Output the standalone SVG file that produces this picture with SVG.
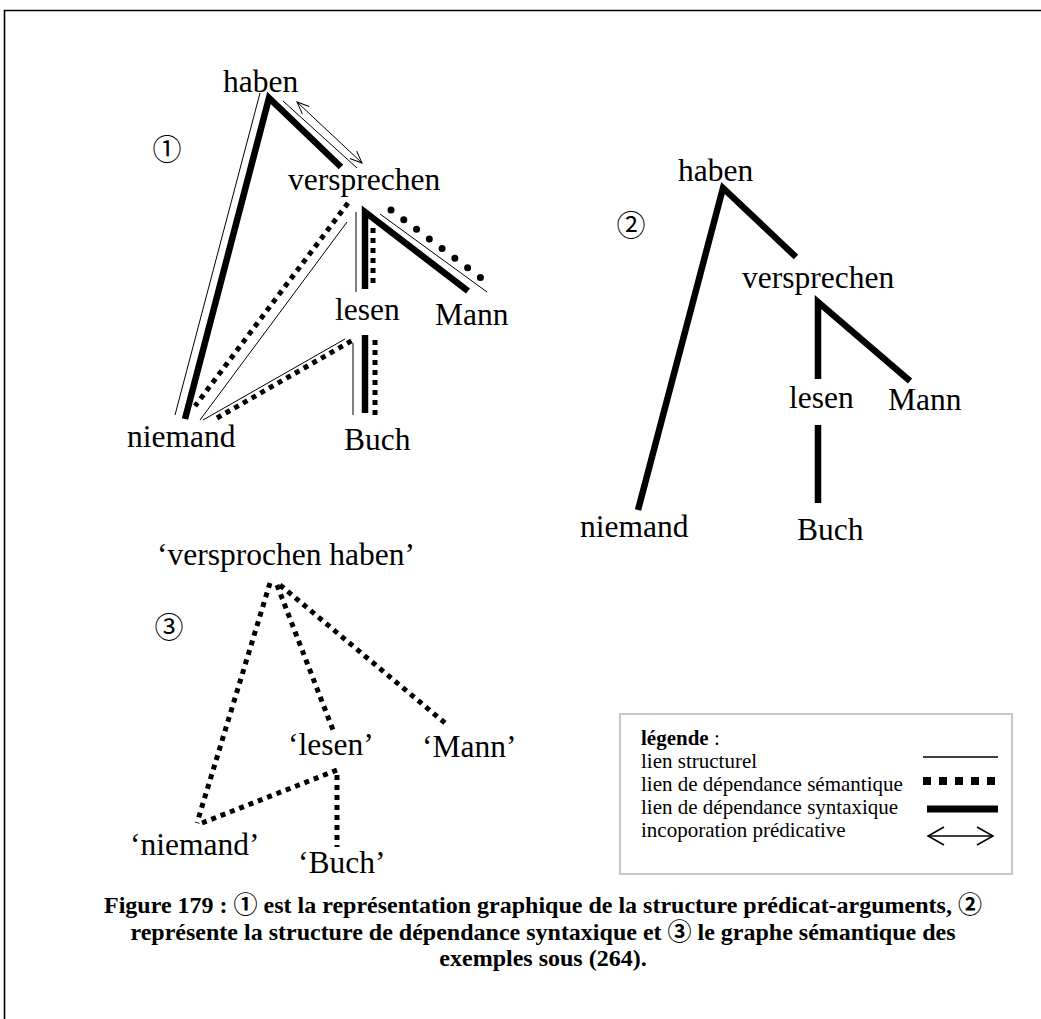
<svg xmlns="http://www.w3.org/2000/svg" width="1041" height="1019" viewBox="0 0 1041 1019">
  <style>
    .lbl { font-family: "Liberation Serif", "Times New Roman", serif; font-size: 31.5px; fill: #000; }
    .num { font-family: "Liberation Serif", "Noto Sans CJK JP", serif; font-size: 29px; fill: #000; text-anchor: middle; }
    .leg { font-family: "Liberation Serif", "Times New Roman", serif; font-size: 21px; fill: #000; }
    .cap { font-family: "Liberation Serif", "Noto Sans CJK JP", serif; font-size: 24px; font-weight: bold; fill: #000; text-anchor: middle; }
    .thin { stroke: #000; stroke-width: 1; fill: none; }
    .thick { stroke: #000; stroke-width: 6.5; fill: none; stroke-linejoin: miter; }
    .sem { stroke: #000; stroke-width: 5; stroke-dasharray: 5 5; fill: none; }
    .round { stroke: #000; stroke-width: 7; stroke-dasharray: 0 16; stroke-linecap: round; fill: none; }
    .incorp { stroke: #000; stroke-width: 1; fill: none; marker-start: url(#vhead); marker-end: url(#vhead); }
  </style>
  <defs>
    <marker id="vhead" markerUnits="userSpaceOnUse" markerWidth="30" markerHeight="30" viewBox="-15 -15 30 30" refX="0" refY="0" orient="auto-start-reverse">
      <path d="M -12 -5 L 0 0 L -12 5" fill="none" stroke="#000" stroke-width="1"/>
    </marker>
    <marker id="vheadLeg" markerUnits="userSpaceOnUse" markerWidth="40" markerHeight="40" viewBox="-20 -20 40 40" refX="0" refY="0" orient="auto-start-reverse">
      <path d="M -16 -9 L 0 0 L -16 9" fill="none" stroke="#000" stroke-width="1.5"/>
    </marker>
  </defs>

  <rect width="1041" height="1019" fill="#fff"/>

  <!-- page frame: top and left rules -->
  <path d="M 4.5 1019 L 4.5 10.5 L 1041 10.5" fill="none" stroke="#000" stroke-width="1.6"/>

  <!-- connectors -->
  <g id="connectors">
    <!-- (1) predicate-argument structure -->
    <g id="links-1">
      <line class="thin" x1="175" y1="415" x2="260" y2="93"/>
      <line class="thin" x1="283" y1="101" x2="357" y2="168"/>
      <line class="thin" x1="200" y1="420" x2="347" y2="222"/>
      <line class="thin" x1="356" y1="212" x2="356" y2="292"/>
      <line class="thin" x1="380" y1="214" x2="487" y2="292"/>
      <line class="thin" x1="203" y1="420" x2="345" y2="339"/>
      <line class="thin" x1="353" y1="343" x2="353" y2="415"/>
      <polyline class="thick" points="185,419 269,98 341,167"/>
      <polyline class="thick" points="365,289 365,212 468,291"/>
      <line class="thick" x1="365" y1="335" x2="365" y2="413"/>
      <line class="sem" x1="348" y1="203" x2="195" y2="406"/>
      <line class="sem" x1="373" y1="228" x2="373" y2="284"/>
      <line class="sem" x1="217" y1="418" x2="353" y2="340"/>
      <line class="sem" x1="375" y1="340" x2="375" y2="418"/>
      <line class="round" x1="391" y1="210" x2="493" y2="287"/>
      <line class="incorp" x1="297" y1="102" x2="362" y2="163"/>
    </g>
    <!-- (2) syntactic dependency structure -->
    <g id="links-2">
      <polyline class="thick" points="638,510 723,188 796,257"/>
      <polyline class="thick" points="818,379 818,302 910,381"/>
      <line class="thick" x1="818" y1="425" x2="818" y2="503"/>
    </g>
    <!-- (3) semantic graph -->
    <g id="links-3">
      <line class="sem" x1="270" y1="583" x2="197" y2="823"/>
      <line class="sem" x1="277" y1="585" x2="333" y2="730"/>
      <line class="sem" x1="280" y1="585" x2="445" y2="723"/>
      <polyline class="sem" points="202,823 337,770 337,847"/>
    </g>
  </g>

  <!-- (1) nodes -->
  <g id="d1">
    <text class="num" x="167" y="160">①</text>
    <g id="d1-haben"><text class="lbl" x="223" y="92">haben</text></g>
    <g id="d1-versprechen"><text class="lbl" x="288" y="190">versprechen</text></g>
    <g id="d1-lesen"><text class="lbl" x="335" y="320">lesen</text></g>
    <g id="d1-mann"><text class="lbl" x="435" y="325">Mann</text></g>
    <g id="d1-niemand"><text class="lbl" x="127" y="447">niemand</text></g>
    <g id="d1-buch"><text class="lbl" x="344" y="450">Buch</text></g>
  </g>

  <!-- (2) nodes -->
  <g id="d2">
    <text class="num" x="631" y="236">②</text>
    <g id="d2-haben"><text class="lbl" x="678" y="181">haben</text></g>
    <g id="d2-versprechen"><text class="lbl" x="742" y="288">versprechen</text></g>
    <g id="d2-lesen"><text class="lbl" x="789" y="408">lesen</text></g>
    <g id="d2-mann"><text class="lbl" x="888" y="410">Mann</text></g>
    <g id="d2-niemand"><text class="lbl" x="580" y="537">niemand</text></g>
    <g id="d2-buch"><text class="lbl" x="797" y="540">Buch</text></g>
  </g>

  <!-- (3) nodes -->
  <g id="d3">
    <text class="num" x="169" y="638">③</text>
    <g id="d3-versprochen-haben"><text class="lbl" x="157" y="565">‘versprochen haben’</text></g>
    <g id="d3-lesen"><text class="lbl" x="288" y="755">‘lesen’</text></g>
    <g id="d3-mann"><text class="lbl" x="422" y="757">‘Mann’</text></g>
    <g id="d3-niemand"><text class="lbl" x="130" y="855">‘niemand’</text></g>
    <g id="d3-buch"><text class="lbl" x="298" y="873">‘Buch’</text></g>
  </g>

  <!-- legend -->
  <g id="legend">
    <rect x="620" y="714" width="392" height="160" fill="#fff" stroke="#c8c8c8" stroke-width="2"/>
    <text class="leg" x="641" y="745"><tspan font-weight="bold">légende</tspan> :</text>
    <text class="leg" x="641" y="768">lien structurel</text>
    <text class="leg" x="641" y="791">lien de dépendance sémantique</text>
    <text class="leg" x="641" y="814">lien de dépendance syntaxique</text>
    <text class="leg" x="641" y="837">incoporation prédicative</text>
    <line x1="923" y1="757" x2="998" y2="757" stroke="#000" stroke-width="1.3"/>
    <line x1="923" y1="781" x2="995" y2="781" stroke="#000" stroke-width="8" stroke-dasharray="8 8"/>
    <line x1="927" y1="809" x2="998" y2="809" stroke="#000" stroke-width="7"/>
    <line x1="928" y1="836" x2="993" y2="836" stroke="#000" stroke-width="1.5" marker-start="url(#vheadLeg)" marker-end="url(#vheadLeg)"/>
  </g>

  <!-- caption -->
  <g id="caption">
    <text class="cap" x="543" y="913">Figure 179 : ① est la représentation graphique de la structure prédicat-arguments, ②</text>
    <text class="cap" x="543" y="940">représente la structure de dépendance syntaxique et ③ le graphe sémantique des</text>
    <text class="cap" x="543" y="966">exemples sous (264).</text>
  </g>
</svg>
